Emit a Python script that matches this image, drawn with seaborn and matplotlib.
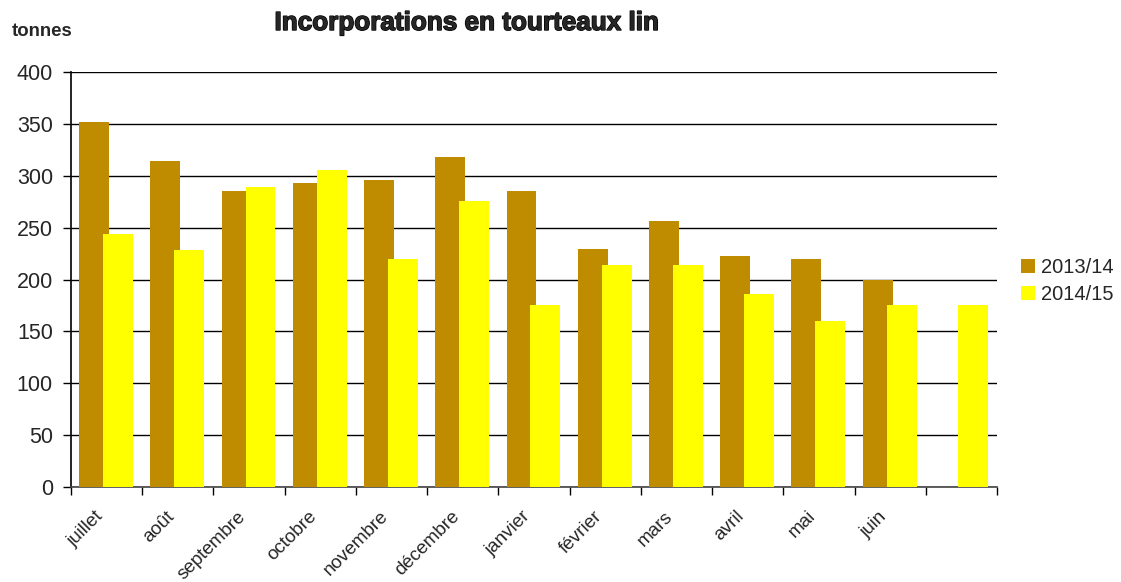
import numpy as np
import pandas as pd
import matplotlib
matplotlib.use("Agg")
import matplotlib.pyplot as plt
import matplotlib.patheffects as pe
import matplotlib.transforms as mtransforms
from matplotlib.patches import Patch
import seaborn as sns

# Monthly incorporations of linseed cake (tonnes)
months = ["juillet", "août", "septembre", "octobre", "novembre", "décembre",
          "janvier", "février", "mars", "avril", "mai", "juin"]
season_a = "2013/14"
season_b = "2014/15"
values_a = [352, 314, 285, 293, 296, 318, 285, 229, 256, 223, 220, 200, np.nan]
values_b = [244, 228, 289, 306, 220, 276, 175, 214, 214, 186, 160, 175, 175]
yticks = [0, 50, 100, 150, 200, 250, 300, 350, 400]

color_a = "#BF8C00"
color_b = "#FFFF00"

sns.set_theme(style="white")
plt.rcParams["font.family"] = ["Liberation Sans", "DejaVu Sans"]

fig = plt.figure(figsize=(11.21, 5.82), dpi=100)
ax = fig.add_axes([71 / 1121, 1 - 487 / 582, (997 - 71) / 1121, (487 - 72) / 582])

slots = np.arange(len(values_b))
df_a = pd.DataFrame({"pos": slots - 0.175, "value": values_a}).dropna()
df_b = pd.DataFrame({"pos": slots + 0.16, "value": values_b}).dropna()

sns.barplot(data=df_a, x="pos", y="value", native_scale=True, width=0.42,
            color=color_a, saturation=1, linewidth=0, ax=ax, zorder=3)
sns.barplot(data=df_b, x="pos", y="value", native_scale=True, width=0.42,
            color=color_b, saturation=1, linewidth=0, ax=ax, zorder=4)

ax.set_xlim(-0.5, len(slots) - 0.5)
ax.set_ylim(0, 400)
ax.set_yticks(yticks)
ax.set_yticklabels([str(v) for v in yticks], fontsize=15.5)
ax.yaxis.grid(True, color="black", linewidth=1.0, zorder=1)
ax.set_axisbelow(True)

# Slot boundaries carry tick marks, month names sit at slot centres
ax.set_xticks(np.arange(-0.5, len(slots)), minor=False)
ax.set_xticklabels([])
ax.set_xticks(np.arange(len(months)), minor=True)
ax.set_xticklabels(months, minor=True, rotation=45, ha="right",
                   rotation_mode="anchor", fontsize=13.6)
ax.tick_params(axis="x", which="major", direction="out", length=6,
               width=1, color="black", bottom=True)
ax.tick_params(axis="x", which="minor", length=0, pad=15)
ax.tick_params(axis="y", direction="out", length=6, width=1,
               color="black", left=True, pad=7)
shift = mtransforms.ScaledTranslation(-12 / 100, 0, fig.dpi_scale_trans)
for lbl in ax.get_xticklabels(minor=True):
    lbl.set_transform(lbl.get_transform() + shift)

ax.set_xlabel("")
ax.set_ylabel("")
for side in ("top", "right"):
    ax.spines[side].set_visible(False)
ax.spines["left"].set_color("black")
ax.spines["left"].set_linewidth(1.2)
ax.spines["bottom"].set_color("#444444")
ax.spines["bottom"].set_linewidth(1.2)

fig.text(467 / 1121, 1 - 23 / 582, "Incorporations en tourteaux lin",
         ha="center", va="center", fontsize=18.8, fontweight="bold",
         path_effects=[pe.withStroke(linewidth=1.0, foreground="black")])
fig.text(12 / 1121, 1 - 31 / 582, "tonnes", ha="left", va="center",
         fontsize=13.4, fontweight="bold")

handles = [Patch(facecolor=color_a, edgecolor="none", label=season_a),
           Patch(facecolor=color_b, edgecolor="none", label=season_b)]
fig.legend(handles=handles, loc="center left",
           bbox_to_anchor=(1013 / 1121, 1 - 281 / 582), frameon=False,
           fontsize=14.5, handlelength=0.7, handleheight=0.7,
           handletextpad=0.3, labelspacing=0.4, borderaxespad=0,
           borderpad=0.4)

fig.savefig("out.png", dpi=100, facecolor="white")
